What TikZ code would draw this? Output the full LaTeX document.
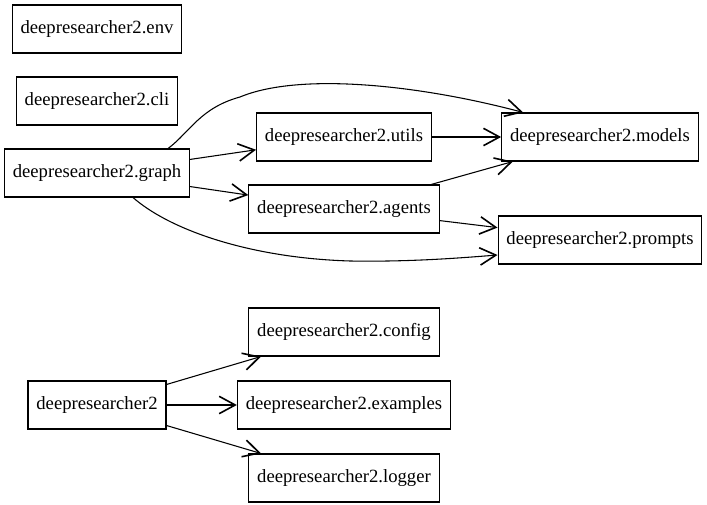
\documentclass[tikz,border=0pt]{standalone}
\usepackage{fontspec}
\setmainfont{Liberation Serif}
\usetikzlibrary{arrows.meta,calc}
\begin{document}
\begin{tikzpicture}[x=0.75pt,y=-0.75pt,
  mod/.style={draw, line width=0.8pt, minimum height=36pt, inner xsep=6.3pt, inner ysep=0pt, font=\fontsize{14pt}{16pt}\selectfont},
  dep/.style={line width=0.8pt, -{Straight Barb[length=12pt,width=13pt,line width=1.2pt]}}]
\useasboundingbox (0,0) rectangle (707,505);
\node[mod] (env) at (97,29) {deepresearcher2.env};
\node[mod] (cli) at (97,101) {deepresearcher2.cli};
\node[mod] (graph) at (97,173) {deepresearcher2.graph};
\node[mod] (utils) at (344,137) {deepresearcher2.utils};
\node[mod] (agents) at (344,209) {deepresearcher2.agents};
\node[mod] (models) at (600,137) {deepresearcher2.models};
\node[mod] (prompts) at (600,240) {deepresearcher2.prompts};
\node[mod] (config) at (344,332) {deepresearcher2.config};
\node[mod] (dr) at (97,405) {deepresearcher2};
\node[mod] (examples) at (344,405) {deepresearcher2.examples};
\node[mod] (logger) at (344,478) {deepresearcher2.logger};
\coordinate (gtop) at ($(graph.north east)+(-22,0)$);
\coordinate (mtop) at ($(models.north west)+(22,0)$);
\coordinate (gbot) at ($(graph.south)+(36,0)$);
\coordinate (pleft) at ($(prompts.west)+(0,15)$);
\draw[dep] (gtop) .. controls (190,132) and (200,108) .. (240,97) .. controls (300,72) and (420,85) .. (mtop);
\draw[dep] (graph) -- (utils);
\draw[dep] (graph) -- (agents);
\draw[dep] (gbot) .. controls (170,230) and (250,258) .. (350,261) .. controls (410,262) and (460,258) .. (pleft);
\draw[dep] (utils) -- (models);
\draw[dep] (agents) -- (models);
\draw[dep] (agents) -- (prompts);
\draw[dep] (dr) -- (config);
\draw[dep] (dr) -- (examples);
\draw[dep] (dr) -- (logger);
\end{tikzpicture}
\end{document}
